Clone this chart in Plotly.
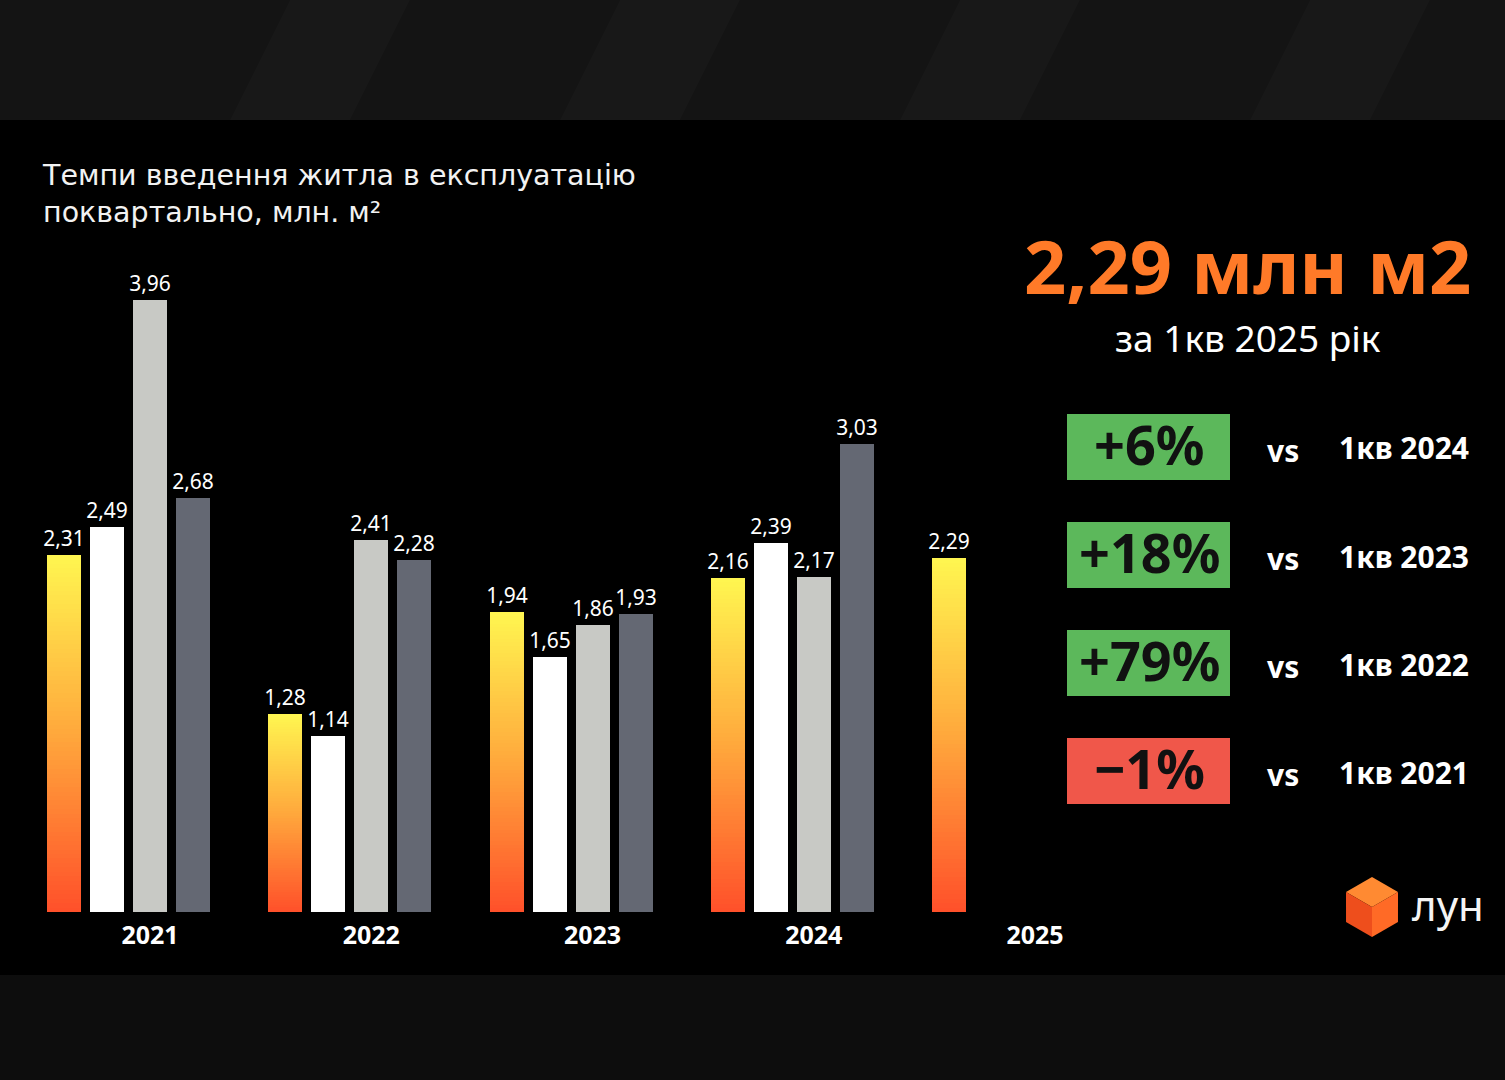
import math
import plotly.graph_objects as go

# ---------------- data ----------------
years = ["2021", "2022", "2023", "2024", "2025"]
q1 = [2.31, 1.28, 1.94, 2.16, 2.29]
q2 = [2.49, 1.14, 1.65, 2.39]
q3 = [3.96, 2.41, 1.86, 2.17]
q4 = [2.68, 2.28, 1.93, 3.03]

title_lines = ["Темпи введення житла в експлуатацію", "поквартально, млн. м²"]
headline = "2,29 млн м2"
subhead = "за 1кв 2025 рік"
cmp_values = ["+6%", "+18%", "+79%", "-1%"]
cmp_labels = ["1кв 2024", "1кв 2023", "1кв 2022", "1кв 2021"]

# ---------------- styling ----------------
W, H = 1505, 1080
BASE_PX, LEFT_PX = 912, 64
PX_PER_UNIT_Y = 154.5
PX_PER_SLOT = 43.0
YEAR_SPAN = 221.25 / PX_PER_SLOT
BAR_W = 34 / PX_PER_SLOT
FONT = "Noto Sans"

C_Q2, C_Q3, C_Q4 = "#FFFFFF", "#C8C9C5", "#646873"
GRAD = [(0.0, (255, 80, 42)), (0.5, (255, 168, 60)), (1.0, (255, 246, 80))]


def grad_color(f):
    for (f0, c0), (f1, c1) in zip(GRAD[:-1], GRAD[1:]):
        if f0 <= f <= f1:
            t = (f - f0) / (f1 - f0)
            c = [round(a + (b - a) * t) for a, b in zip(c0, c1)]
            return f"rgb({c[0]},{c[1]},{c[2]})"
    return "rgb(255,246,80)"


def xpos(yi, q):
    return yi * YEAR_SPAN + q


def fmt(v):
    return f"{v:.2f}".replace(".", ",")


def px(x):
    return x / W


def py(y):
    return 1 - y / H


fig = go.Figure()

# gradient Q1 bars built from stacked segments
N = 80
gx, gy, gb, gc = [], [], [], []
for yi, v in enumerate(q1):
    step = v / N
    for k in range(N):
        gx.append(xpos(yi, 0))
        gy.append(step * 1.02)
        gb.append(step * k)
        gc.append(grad_color((k + 0.5) / N))
fig.add_trace(go.Bar(x=gx, y=gy, base=gb, width=BAR_W,
                     marker=dict(color=gc, line=dict(width=0)),
                     hoverinfo="skip", showlegend=False))

label_font = dict(family=FONT, size=21, color="white")

# transparent Q1 carrier for labels
fig.add_trace(go.Bar(x=[xpos(i, 0) for i in range(len(q1))], y=q1, width=BAR_W,
                     marker=dict(color="rgba(0,0,0,0)", line=dict(width=0)),
                     text=[fmt(v) for v in q1], textposition="outside",
                     textfont=label_font, cliponaxis=False,
                     hoverinfo="skip", showlegend=False))

for qi, (vals, col) in enumerate([(q2, C_Q2), (q3, C_Q3), (q4, C_Q4)], start=1):
    fig.add_trace(go.Bar(x=[xpos(i, qi) for i in range(len(vals))], y=vals, width=BAR_W,
                         marker=dict(color=col, line=dict(width=0)),
                         text=[fmt(v) for v in vals], textposition="outside",
                         textfont=label_font, cliponaxis=False,
                         hoverinfo="skip", showlegend=False))

# ---------------- background bands ----------------
shapes = [
    dict(type="rect", xref="paper", yref="paper", x0=0, x1=1, y0=py(120), y1=1,
         fillcolor="#141414", line=dict(width=0), layer="below"),
    dict(type="rect", xref="paper", yref="paper", x0=0, x1=1, y0=0, y1=py(975),
         fillcolor="#0d0d0d", line=dict(width=0), layer="below"),
]
for x0 in [230, 560, 900, 1250]:
    shapes.append(dict(type="path", xref="paper", yref="paper",
                       path=f"M {px(x0)},{py(120)} L {px(x0+60)},{py(0)} L {px(x0+180)},{py(0)} L {px(x0+120)},{py(120)} Z",
                       fillcolor="rgba(255,255,255,0.02)", line=dict(width=0), layer="below"))

annotations = []

# title
annotations.append(dict(text="<br>".join(title_lines), xref="paper", yref="paper",
                        x=px(40), y=py(157), xanchor="left", yanchor="top", align="left",
                        showarrow=False, font=dict(family="DejaVu Sans", size=28.5, color="#F2F2F2")))

# headline
annotations.append(dict(text=f"<b>{headline}</b>", xref="paper", yref="paper",
                        x=px(1247), y=py(266), xanchor="center", yanchor="middle",
                        showarrow=False, font=dict(family=FONT, size=74, color="#FF7A28")))
annotations.append(dict(text=subhead, xref="paper", yref="paper",
                        x=px(1248), y=py(338), xanchor="center", yanchor="middle",
                        showarrow=False, font=dict(family=FONT, size=37, color="#FFFFFF")))

# comparison boxes
box_cy = [447, 555, 663, 771]
for val, lab, cy in zip(cmp_values, cmp_labels, box_cy):
    col = "#5CB85B" if val.startswith("+") else "#F0574A"
    shapes.append(dict(type="rect", xref="paper", yref="paper",
                       x0=px(1067), x1=px(1230), y0=py(cy + 33), y1=py(cy - 33),
                       fillcolor=col, line=dict(width=0)))
    annotations.append(dict(text=f"<b>{val.replace('-', '−')}</b>", xref="paper", yref="paper",
                            x=px(1149), y=py(cy - 3), xanchor="center", yanchor="middle",
                            showarrow=False, font=dict(family=FONT, size=54, color="#111111")))
    annotations.append(dict(text="<b>vs</b>", xref="paper", yref="paper",
                            x=px(1283), y=py(cy + 3), xanchor="center", yanchor="middle",
                            showarrow=False, font=dict(family=FONT, size=30, color="white")))
    annotations.append(dict(text=f"<b>{lab}</b>", xref="paper", yref="paper",
                            x=px(1404), y=py(cy + 1), xanchor="center", yanchor="middle",
                            showarrow=False, font=dict(family=FONT, size=30, color="white")))

# logo cube
cx, cy, r = 1372, 907, 30
pts = [(cx + r * math.cos(math.radians(a)), cy + r * math.sin(math.radians(a)))
       for a in [-90, -30, 30, 90, 150, 210]]
top, ur, lr, bot, ll, ul = pts
ctr = (cx, cy)


def poly(ps):
    return "M " + " L ".join(f"{px(x)},{py(y)}" for x, y in ps) + " Z"


shapes += [
    dict(type="path", xref="paper", yref="paper", path=poly([top, ur, ctr, ul]),
         fillcolor="#FF8A32", line=dict(width=0)),
    dict(type="path", xref="paper", yref="paper", path=poly([ul, ctr, bot, ll]),
         fillcolor="#EE4E1C", line=dict(width=0)),
    dict(type="path", xref="paper", yref="paper", path=poly([ctr, ur, lr, bot]),
         fillcolor="#FF6A26", line=dict(width=0)),
]
annotations.append(dict(text="лун", xref="paper", yref="paper",
                        x=px(1410), y=py(905), xanchor="left", yanchor="middle",
                        showarrow=False, font=dict(family=FONT, size=42, color="#F4F4F4")))

fig.update_layout(
    width=W, height=H,
    margin=dict(l=0, r=0, t=0, b=0),
    paper_bgcolor="#000000", plot_bgcolor="rgba(0,0,0,0)",
    barmode="overlay", bargap=0, uniformtext=dict(mode=False),
    shapes=shapes, annotations=annotations,
    showlegend=False,
    font=dict(family=FONT, color="white"),
)
fig.update_traces(selector=dict(type="bar"), constraintext="none")
fig.update_xaxes(domain=[0, 1],
                 range=[-LEFT_PX / PX_PER_SLOT, (W - LEFT_PX) / PX_PER_SLOT],
                 tickvals=[xpos(i, 2) for i in range(len(years))],
                 ticktext=[f"<b>{y}</b>" for y in years],
                 tickfont=dict(family=FONT, size=25, color="white"),
                 ticklabelstandoff=6,
                 ticks="", showgrid=False, zeroline=False, showline=False,
                 fixedrange=True)
fig.update_yaxes(domain=[(H - BASE_PX) / H, 1],
                 range=[0, BASE_PX / PX_PER_UNIT_Y],
                 showticklabels=False, showgrid=False, zeroline=False, showline=False,
                 fixedrange=True)

fig.write_html("out.html", config=dict(displayModeBar=False),
               post_script="document.body.style.margin='0';document.body.style.background='#000';document.body.style.overflow='hidden';")
